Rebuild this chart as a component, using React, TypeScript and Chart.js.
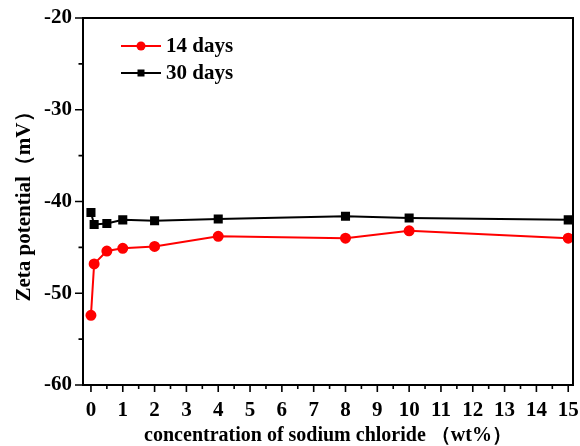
import { useEffect, useRef } from "react";
import { Chart, registerables } from "chart.js";

Chart.register(...registerables);

const concentrations = [0, 0.1, 0.5, 1, 2, 4, 8, 10, 15];
const zeta14Days = [-52.4, -46.8, -45.4, -45.1, -44.9, -43.8, -44.0, -43.2, -44.0];
const zeta30Days = [-41.2, -42.5, -42.4, -42.0, -42.1, -41.9, -41.6, -41.8, -42.0];
const seriesLabels = ["14 days", "30 days"];
const seriesColors = ["#ff0000", "#000000"];
const xTickValues = [0, 1, 2, 3, 4, 5, 6, 7, 8, 9, 10, 11, 12, 13, 14, 15];
const yTickValues = [-60, -50, -40, -30, -20];
const xTitle = "concentration of sodium chloride （wt%）";
const yTitle = "Zeta potential（mV）";

const FONT = "'Liberation Serif', 'Times New Roman', serif";

const framePlugin = {
  id: "frame",
  afterDraw(chart: any) {
    const { ctx, chartArea } = chart;
    const xs = chart.scales.x;
    const ys = chart.scales.y;
    ctx.save();
    ctx.strokeStyle = "#000";
    ctx.lineWidth = 2;
    ctx.strokeRect(chartArea.left, chartArea.top, chartArea.right - chartArea.left, chartArea.bottom - chartArea.top);
    ctx.lineWidth = 1.6;
    ctx.beginPath();
    for (let i = 0; i < yTickValues.length; i++) {
      const v = yTickValues[i];
      const p = ys.getPixelForValue(v);
      ctx.moveTo(chartArea.left, p);
      ctx.lineTo(chartArea.left - 8, p);
      if (i < yTickValues.length - 1) {
        const m = (v + yTickValues[i + 1]) / 2;
        const pm = ys.getPixelForValue(m);
        ctx.moveTo(chartArea.left, pm);
        ctx.lineTo(chartArea.left - 4.5, pm);
      }
    }
    for (let i = 0; i < xTickValues.length; i++) {
      const v = xTickValues[i];
      const p = xs.getPixelForValue(v);
      ctx.moveTo(p, chartArea.bottom);
      ctx.lineTo(p, chartArea.bottom + 7);
      if (i < xTickValues.length - 1) {
        const m = (v + xTickValues[i + 1]) / 2;
        const pm = xs.getPixelForValue(m);
        ctx.moveTo(pm, chartArea.bottom);
        ctx.lineTo(pm, chartArea.bottom + 4);
      }
    }
    ctx.stroke();

    chart.data.datasets.forEach((ds: any, i: number) => {
      const y = chartArea.top + 28 + i * 27;
      const x0 = chartArea.left + 38;
      const x1 = chartArea.left + 78;
      ctx.strokeStyle = ds.borderColor;
      ctx.lineWidth = 2;
      ctx.beginPath();
      ctx.moveTo(x0, y);
      ctx.lineTo(x1, y);
      ctx.stroke();
      ctx.fillStyle = ds.pointBackgroundColor;
      const cx = (x0 + x1) / 2;
      if (ds.pointStyle === "rect") {
        ctx.fillRect(cx - 3.5, y - 3.5, 7, 7);
      } else {
        ctx.beginPath();
        ctx.arc(cx, y, 4.5, 0, Math.PI * 2);
        ctx.fill();
      }
      ctx.fillStyle = "#000";
      ctx.font = `bold 21px ${FONT}`;
      ctx.textBaseline = "middle";
      ctx.textAlign = "left";
      ctx.fillText(ds.label, x1 + 5, y + 1);
    });
    ctx.restore();
  },
};

export default function App() {
  const ref = useRef<HTMLCanvasElement>(null);
  useEffect(() => {
    document.body.style.margin = "0";
    const canvas = ref.current;
    if (!canvas) return;
    const chart = new Chart(canvas, {
      type: "line",
      data: {
        labels: concentrations,
        datasets: [
          {
            label: seriesLabels[0],
            data: concentrations.map((c, i) => ({ x: c, y: zeta14Days[i] })),
            borderColor: seriesColors[0],
            backgroundColor: seriesColors[0],
            pointBackgroundColor: seriesColors[0],
            pointBorderColor: seriesColors[0],
            pointStyle: "circle",
            pointRadius: 4.5,
            borderWidth: 2,
            tension: 0,
          },
          {
            label: seriesLabels[1],
            data: concentrations.map((c, i) => ({ x: c, y: zeta30Days[i] })),
            borderColor: seriesColors[1],
            backgroundColor: seriesColors[1],
            pointBackgroundColor: seriesColors[1],
            pointBorderColor: seriesColors[1],
            pointStyle: "rect",
            pointRadius: 5,
            borderWidth: 2,
            tension: 0,
          },
        ],
      },
      options: {
        responsive: false,
        animation: false,
        layout: { padding: { top: 18, right: 5, left: 0, bottom: 0 } },
        plugins: { legend: { display: false }, tooltip: { enabled: false } },
        scales: {
          x: {
            type: "linear",
            min: -0.25,
            max: 15.15,
            grid: { display: false, drawTicks: false },
            border: { display: false },
            afterBuildTicks: (scale: any) => {
              scale.ticks = xTickValues.map((v) => ({ value: v }));
            },
            afterFit: (scale: any) => {
              scale.height = 61;
              scale.paddingLeft = 0;
              scale.paddingRight = 0;
            },
            ticks: {
              color: "#000",
              padding: 13,
              maxRotation: 0,
              autoSkip: false,
              font: { family: FONT, size: 21, weight: "bold" },
            },
            title: {
              display: true,
              text: xTitle,
              color: "#000",
              padding: { top: 0, bottom: -2 },
              font: { family: FONT, size: 20, weight: "bold" },
            },
          },
          y: {
            type: "linear",
            min: -60,
            max: -20,
            grid: { display: false, drawTicks: false },
            border: { display: false },
            afterBuildTicks: (scale: any) => {
              scale.ticks = yTickValues.map((v) => ({ value: v }));
            },
            afterFit: (scale: any) => {
              scale.width = 83;
              scale.paddingTop = 0;
              scale.paddingBottom = 0;
            },
            ticks: {
              color: "#000",
              padding: 11,
              font: { family: FONT, size: 21, weight: "bold" },
            },
            title: {
              display: true,
              text: yTitle,
              color: "#000",
              padding: { top: 12, bottom: 0 },
              font: { family: FONT, size: 21, weight: "bold" },
            },
          },
        },
      },
      plugins: [framePlugin],
    });
    return () => chart.destroy();
  }, []);
  return <canvas ref={ref} width={580} height={446} style={{ display: "block" }} />;
}
